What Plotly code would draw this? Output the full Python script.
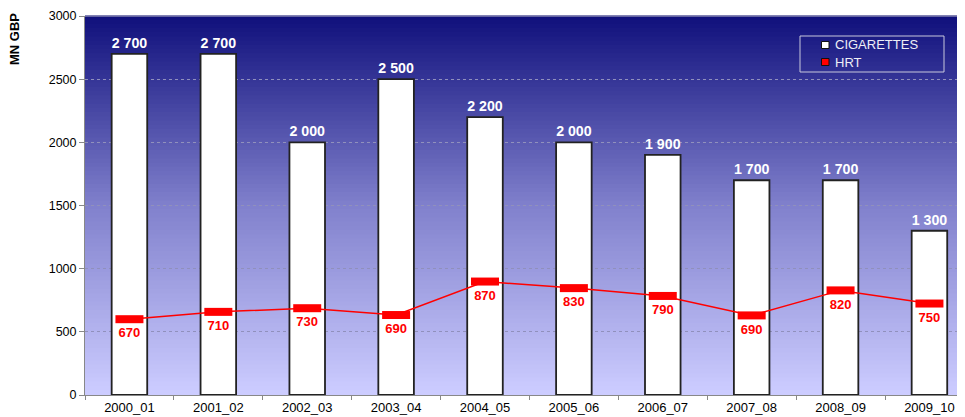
"""Cigarettes vs HRT spend, MN GBP — bars + line over a vertical gradient."""
import plotly.graph_objects as go

years = ["2000_01", "2001_02", "2002_03", "2003_04", "2004_05",
         "2005_06", "2006_07", "2007_08", "2008_09", "2009_10"]
cigarettes = [2700, 2700, 2000, 2500, 2200, 2000, 1900, 1700, 1700, 1300]
# HRT points as plotted; the printed labels in the source differ from positions
hrt = [600, 658, 687, 633, 898, 846, 784, 630, 828, 724]
hrt_labels = ["670", "710", "730", "690", "870", "830", "790", "690", "820", "750"]

FONT = "Liberation Sans, Arial, sans-serif"
RED = "#ff0000"

# page pixels -> paper coords (plot area spans x 85..965, y 16..395 on the page)
def px(x):
    return (x - 85) / 880


def py(y):
    return (395 - y) / 379


def _mix(c1, c2, t):
    return "rgb(%d,%d,%d)" % tuple(round(a + (b - a) * t) for a, b in zip(c1, c2))


fig = go.Figure()

fig.add_trace(go.Bar(
    x=years, y=cigarettes, width=0.4, name="CIGARETTES", showlegend=False,
    marker=dict(color="white", line=dict(color="#222222", width=1.8)),
    text=[f"{v:,}".replace(",", " ") for v in cigarettes], textposition="outside",
    textfont=dict(family=FONT, size=15, color="white"), cliponaxis=False,
    texttemplate="<b>%{text}</b>"))

fig.add_trace(go.Scatter(
    x=years, y=hrt, name="HRT", showlegend=False, mode="lines+markers",
    line=dict(color=RED, width=1.5),
    marker=dict(symbol="line-ew", size=20, line=dict(color=RED, width=8)),
    cliponaxis=False))

# labels sit under the markers; an invisible marker sets the gap
fig.add_trace(go.Scatter(
    x=years, y=hrt, showlegend=False, mode="markers+text", hoverinfo="skip",
    marker=dict(size=12, color="rgba(0,0,0,0)"),
    text=[f"<b>{t}</b>" for t in hrt_labels], textposition="bottom center",
    textfont=dict(family=FONT, size=13, color=RED), cliponaxis=False))

# vertical gradient background: deep navy on top to pale lavender at bottom
top, mid, bot = (16, 16, 124), (128, 128, 204), (204, 204, 255)
n = 90
shapes = []
for i in range(n):
    t = i / (n - 1)
    col = _mix(top, mid, t / 0.5) if t < 0.5 else _mix(mid, bot, (t - 0.5) / 0.5)
    shapes.append(dict(type="rect", xref="paper", yref="paper", layer="below",
                       x0=0, x1=1, y0=1 - (i + 1) / n, y1=1 - i / n + 0.002,
                       fillcolor=col, line=dict(width=0)))
shapes.append(dict(type="line", xref="paper", yref="paper", x0=0, x1=1, y0=1, y1=1,
                   line=dict(color="#b8b8c8", width=1)))

# hand-drawn legend box, as in the source
shapes.append(dict(type="rect", xref="paper", yref="paper", x0=px(800), x1=px(944),
                   y0=py(72), y1=py(36), line=dict(color="#c8c8dc", width=1)))
annotations = []
for name, col, yc in (("CIGARETTES", "white", 45), ("HRT", RED, 62)):
    shapes.append(dict(type="rect", xref="paper", yref="paper", x0=px(821.5), x1=px(829),
                       y0=py(yc + 3.5), y1=py(yc - 3.5), fillcolor=col,
                       line=dict(color="#111111", width=1)))
    annotations.append(dict(text=name, xref="paper", yref="paper", x=px(833), y=py(yc),
                            xanchor="left", yanchor="middle", showarrow=False,
                            font=dict(family=FONT, size=13, color="#eeeef6")))

annotations.append(dict(text="<b>MN GBP</b>", xref="paper", yref="paper",
                        x=px(15), y=py(11), xanchor="center", yanchor="top",
                        textangle=-90, showarrow=False,
                        font=dict(family=FONT, size=13, color="black")))

# the page has an 8px body margin, so the figure is sized to fit 965x417 after it
fig.update_layout(
    width=957, height=409, margin=dict(l=77, r=0, t=8, b=22),
    paper_bgcolor="white", plot_bgcolor="rgba(0,0,0,0)", shapes=shapes,
    annotations=annotations, showlegend=False,
    font=dict(family=FONT, size=13, color="black"),
)
fig.update_xaxes(range=[-0.5, 9.4], showgrid=False, showline=True, linecolor="#888888",
                 ticks="outside", tickson="boundaries", ticklen=4, tickcolor="#888888",
                 tickfont=dict(size=13), automargin=False, ticklabeloverflow="allow")
fig.update_yaxes(range=[0, 3000], dtick=500, showgrid=True, gridcolor="#9090bc",
                 griddash="dot", gridwidth=1, zeroline=False, showline=True,
                 linecolor="#888888", ticks="outside", ticklen=5, tickcolor="#888888",
                 tickfont=dict(size=12.5), automargin=False, ticklabeloverflow="allow")

fig.write_html("out.html")
